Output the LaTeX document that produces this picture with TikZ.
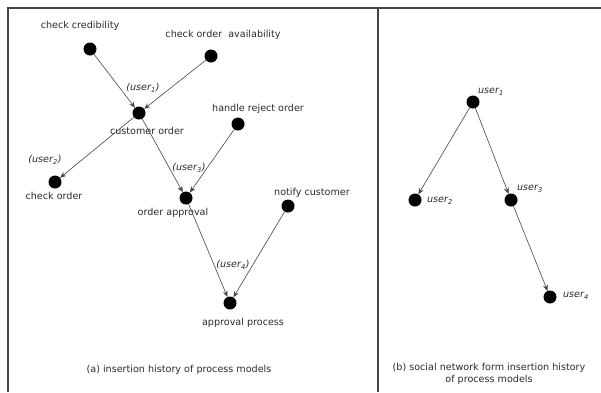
\documentclass[tikz,border=0pt]{standalone}
\usepackage{fontspec}
\setmainfont{DejaVu Sans}
\usepackage{xcolor}
\usetikzlibrary{arrows.meta,positioning}

\definecolor{inkgray}{HTML}{2A2A2A}
\definecolor{linegray}{HTML}{444444}

\begin{document}
\begin{tikzpicture}[
    x=1pt, y=-1pt,
    dot/.style={circle, fill=black, inner sep=0pt, minimum size=13pt},
    arrow/.style={-{Stealth[length=6pt,width=5pt]}, draw=linegray, line width=0.6pt},
    txt/.style={font=\fontsize{9.6}{11.5}\selectfont, text=inkgray, inner sep=1pt},
    usr/.style={txt, font=\fontsize{9.6}{11.5}\selectfont\itshape}
]
    \useasboundingbox (0,0) rectangle (601,392);

    % Frame
    \draw[linegray, line width=1.2pt] (8,392) -- (8,8) -- (601,8);
    \draw[linegray, line width=1.2pt] (378,8) -- (378,392);

    % Process models
    \node[dot] (cred) at (90,49) {};
    \node[dot] (avail) at (211,56) {};
    \node[dot] (custorder) at (139,113) {};
    \node[dot] (reject) at (238,124) {};
    \node[dot] (checkorder) at (55,182) {};
    \node[dot] (approval) at (186,198) {};
    \node[dot] (notify) at (288,206) {};
    \node[dot] (process) at (230,303) {};

    \node[txt] (credlbl) at (80,26) {check credibility};
    \node[txt] (availlbl) at (223,35) {check order\ \ availability};
    \node[txt] (custlbl) at (147,131) {customer order};
    \node[txt] (rejectlbl) at (258,109) {handle reject order};
    \node[txt] (checklbl) at (54,196) {check order};
    \node[txt] (approvallbl) at (173,213) {order approval};
    \node[txt] (notifylbl) at (312,193) {notify customer};
    \node[txt] (processlbl) at (243,323) {approval process};

    \node[usr] (u1) at (143,88) {(user\textsubscript{1})};
    \node[usr] (u2) at (45,160) {(user\textsubscript{2})};
    \node[usr] (u3) at (189,168) {(user\textsubscript{3})};
    \node[usr] (u4) at (233,265) {(user\textsubscript{4})};

    \draw[arrow] (cred) -- (custorder);
    \draw[arrow] (avail) -- (custorder);
    \draw[arrow] (custorder) -- (checkorder);
    \draw[arrow] (custorder) -- (approval);
    \draw[arrow] (reject) -- (approval);
    \draw[arrow] (approval) -- (process);
    \draw[arrow] (notify) -- (process);

    \node[txt] (capa) at (179,370) {(a) insertion history of process models};

    % Social network
    \node[dot] (user1) at (473,102) {};
    \node[dot] (user2) at (415,200) {};
    \node[dot] (user3) at (511,200) {};
    \node[dot] (user4) at (550,297) {};

    \node[usr] (l1) at (491,92) {user\textsubscript{1}};
    \node[usr] (l2) at (440,201) {user\textsubscript{2}};
    \node[usr] (l3) at (530,189) {user\textsubscript{3}};
    \node[usr] (l4) at (576,296) {user\textsubscript{4}};

    \draw[arrow] (user1) -- (user2);
    \draw[arrow] (user1) -- (user3);
    \draw[arrow] (user3) -- (user4);

    \node[txt, align=center] (capb) at (489,374) {(b) social network form insertion history\\of process models};
\end{tikzpicture}
\end{document}
